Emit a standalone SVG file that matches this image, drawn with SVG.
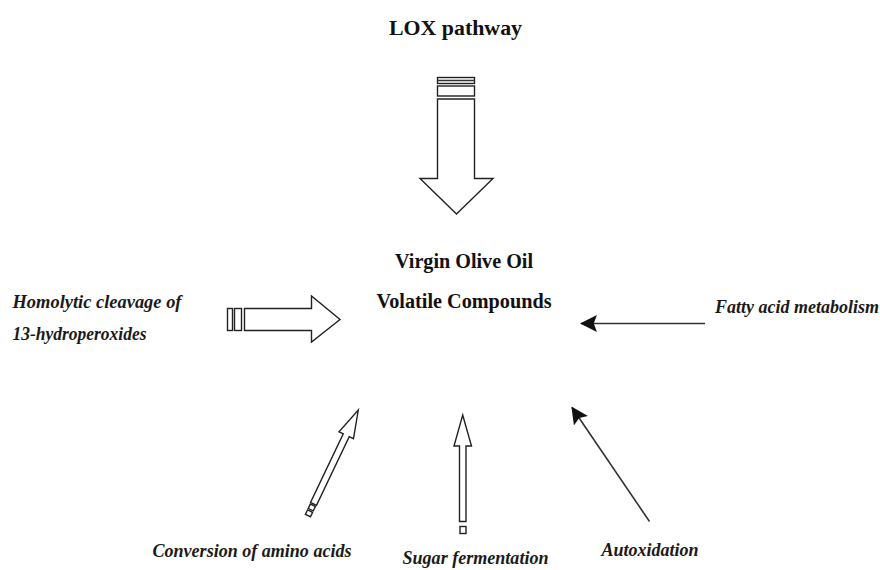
<svg xmlns="http://www.w3.org/2000/svg" width="880" height="570" viewBox="0 0 880 570">
<defs>
<style>
.t{font-family:"Liberation Serif","Times New Roman",serif;font-weight:bold;fill:#111}
.i{font-family:"Liberation Serif","Times New Roman",serif;font-weight:bold;font-style:italic;fill:#1a1a1a;font-size:18px}
.o{fill:#fff;stroke:#222;stroke-width:1.4;stroke-linejoin:miter}
.l{stroke:#333;stroke-width:1.6;fill:none}
</style>
<marker id="ah2" viewBox="0 0 16 16" refX="15" refY="8" markerWidth="17" markerHeight="17" markerUnits="userSpaceOnUse" orient="auto">
<path d="M0,0 L16,8 L0,16 L3,8 Z" fill="#111"/>
</marker>
</defs>
<rect width="880" height="570" fill="#fff"/>

<g id="lox">
<text class="t" x="455.5" y="35" font-size="22" text-anchor="middle" textLength="133" lengthAdjust="spacingAndGlyphs">LOX pathway</text>
</g>
<g id="center">
<text class="t" x="464" y="268" font-size="20" text-anchor="middle" textLength="138" lengthAdjust="spacingAndGlyphs">Virgin Olive Oil</text>
<text class="t" x="464" y="308" font-size="20" text-anchor="middle" textLength="175" lengthAdjust="spacingAndGlyphs">Volatile Compounds</text>
</g>
<g id="homolytic">
<text class="i" x="12.5" y="308" textLength="169" lengthAdjust="spacingAndGlyphs">Homolytic cleavage of</text>
<text class="i" x="12.5" y="340" textLength="134" lengthAdjust="spacingAndGlyphs">13-hydroperoxides</text>
</g>
<g id="fatty">
<text class="i" x="715" y="313" textLength="164" lengthAdjust="spacingAndGlyphs">Fatty acid metabolism</text>
</g>
<g id="amino">
<text class="i" x="152.5" y="557" textLength="199" lengthAdjust="spacingAndGlyphs">Conversion of amino acids</text>
</g>
<g id="sugar">
<text class="i" x="402.5" y="564" textLength="146" lengthAdjust="spacingAndGlyphs">Sugar fermentation</text>
</g>
<g id="autox">
<text class="i" x="601.5" y="556" textLength="97" lengthAdjust="spacingAndGlyphs">Autoxidation</text>
</g>

<g id="connectors">
<!-- LOX big down arrow -->
<rect class="o" x="437.5" y="77.5" width="37" height="6"/>
<line class="l" x1="437.5" y1="80.5" x2="474.5" y2="80.5" stroke-width="1.2"/>
<rect class="o" x="437.5" y="86" width="37" height="10"/>
<path class="o" d="M437.5,99 L474.5,99 L474.5,178.5 L493,178.5 L456.5,214 L420,178.5 L437.5,178.5 Z"/>
<!-- Homolytic right arrow -->
<rect class="o" x="227.5" y="308.5" width="5" height="22"/>
<rect class="o" x="234.5" y="308.5" width="7" height="22"/>
<path class="o" d="M244.5,308.5 L311.5,308.5 L311.5,296 L340,319.5 L311.5,342 L311.5,330.5 L244.5,330.5 Z"/>
<!-- Fatty acid arrow -->
<line class="l" x1="705" y1="323.5" x2="581" y2="323.5" marker-end="url(#ah2)"/>
<!-- Autoxidation arrow -->
<line class="l" x1="649.5" y1="521.5" x2="572" y2="407.5" marker-end="url(#ah2)"/>
<!-- Sugar fermentation arrow -->
<path class="o" d="M462.7,415 L471.5,446 L466,446 L466,521.5 L459.5,521.5 L459.5,446 L454,446 Z"/>
<rect class="o" x="460" y="526.5" width="6" height="7"/>
<!-- Amino acids arrow (rotated) -->
<g transform="translate(358.3,410) rotate(25.5)">
<path class="o" d="M0,0 L8,28 L3.3,28 L3.3,104 L-3.3,104 L-3.3,28 L-8,28 Z"/>
<rect class="o" x="-2.8" y="105.5" width="5.6" height="5"/>
<rect class="o" x="-2.8" y="112" width="5.6" height="5"/>
</g>
</g>
</svg>
